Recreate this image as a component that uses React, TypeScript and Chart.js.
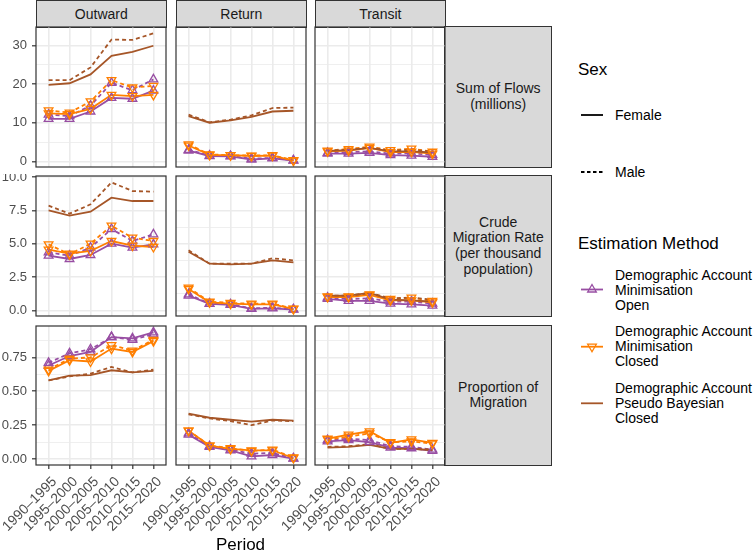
import React, { useEffect, useRef } from 'react';
import { Chart, registerables } from 'chart.js';

Chart.register(...registerables);

const FONT = '"Liberation Sans", Arial, Helvetica, sans-serif';
Chart.defaults.font.family = FONT;

const periods = ['1990–1995', '1995–2000', '2000–2005', '2005–2010', '2010–2015', '2015–2020'];
const flowTypes = ['Outward', 'Return', 'Transit'];
const measureLabels = ['Sum of Flows\n(millions)', 'Crude\nMigration Rate\n(per thousand\npopulation)', 'Proportion of\nMigration'];
const methodLabels = ['Demographic Account\nMinimisation\nOpen', 'Demographic Account\nMinimisation\nClosed', 'Demographic Account\nPseudo Bayesian\nClosed'];
const sexLabels = ['Female', 'Male'];

// y tick values per row
const sumTicksMajor = [0, 10, 20, 30];
const sumTicksMinor = [5, 15, 25];
const cmrTicksMajor = [0, 2.5, 5, 7.5, 10];
const cmrTicksMinor = [1.25, 3.75, 6.25, 8.75];
const propTicksMajor = [0, 0.25, 0.5, 0.75];
const propTicksMinor = [0.125, 0.375, 0.625, 0.875];

// ---- Sum of Flows (millions) ----
const sumOutOpenF = [11.0, 11.0, 12.9, 16.4, 16.2, 18.3];
const sumOutOpenM = [12.1, 11.7, 14.4, 20.3, 18.4, 21.2];
const sumOutClosedF = [12.4, 12.2, 13.6, 17.2, 16.9, 17.2];
const sumOutClosedM = [13.2, 12.6, 15.5, 21.0, 19.1, 19.5];
const sumOutPbF = [19.8, 20.2, 22.5, 27.3, 28.3, 29.9];
const sumOutPbM = [21.0, 21.0, 24.3, 31.5, 31.4, 33.1];

const sumRetOpenF = [2.8, 1.4, 1.3, 0.5, 0.8, 0.2];
const sumRetOpenM = [3.0, 1.5, 1.4, 0.7, 0.9, 0.3];
const sumRetClosedF = [4.1, 1.7, 1.6, 1.4, 1.5, 0.2];
const sumRetClosedM = [4.4, 1.8, 1.6, 1.5, 1.6, 0.3];
const sumRetPbF = [11.7, 10.0, 10.6, 11.5, 12.9, 13.1];
const sumRetPbM = [12.1, 10.1, 10.8, 11.9, 13.8, 13.9];

const sumTraOpenF = [2.0, 2.0, 2.2, 1.6, 1.5, 1.2];
const sumTraOpenM = [2.2, 2.4, 2.6, 2.0, 2.1, 1.7];
const sumTraClosedF = [2.6, 2.8, 3.5, 2.4, 2.5, 2.0];
const sumTraClosedM = [2.8, 3.2, 3.8, 2.9, 3.3, 2.5];
const sumTraPbF = [2.7, 2.9, 3.5, 2.6, 2.6, 2.3];
const sumTraPbM = [2.8, 3.0, 3.6, 2.8, 3.0, 2.6];

// ---- Crude Migration Rate (per thousand) ----
const cmrOutOpenF = [4.1, 3.85, 4.15, 5.0, 4.7, 4.95];
const cmrOutOpenM = [4.35, 4.1, 4.7, 6.1, 5.2, 5.7];
const cmrOutClosedF = [4.55, 4.25, 4.45, 5.2, 4.85, 4.75];
const cmrOutClosedM = [4.95, 4.2, 5.0, 6.35, 5.45, 5.2];
const cmrOutPbF = [7.5, 7.1, 7.4, 8.45, 8.2, 8.2];
const cmrOutPbM = [7.85, 7.25, 7.95, 9.6, 8.95, 8.9];

const cmrRetOpenF = [1.1, 0.48, 0.4, 0.1, 0.15, 0.05];
const cmrRetOpenM = [1.2, 0.5, 0.45, 0.15, 0.2, 0.07];
const cmrRetClosedF = [1.6, 0.6, 0.5, 0.45, 0.45, 0.1];
const cmrRetClosedM = [1.7, 0.65, 0.55, 0.5, 0.5, 0.12];
const cmrRetPbF = [4.4, 3.5, 3.45, 3.5, 3.75, 3.6];
const cmrRetPbM = [4.5, 3.5, 3.5, 3.5, 3.9, 3.75];

const cmrTraOpenF = [0.85, 0.7, 0.7, 0.5, 0.45, 0.35];
const cmrTraOpenM = [0.95, 0.85, 0.9, 0.65, 0.65, 0.5];
const cmrTraClosedF = [1.0, 1.0, 1.15, 0.75, 0.75, 0.6];
const cmrTraClosedM = [1.05, 1.05, 1.2, 0.85, 0.95, 0.7];
const cmrTraPbF = [1.1, 1.1, 1.3, 0.8, 0.75, 0.65];
const cmrTraPbM = [1.1, 1.1, 1.3, 0.9, 0.95, 0.8];

// ---- Proportion of Migration ----
const propOutOpenF = [0.69, 0.76, 0.79, 0.9, 0.89, 0.935];
const propOutOpenM = [0.71, 0.78, 0.81, 0.9, 0.88, 0.92];
const propOutClosedF = [0.65, 0.73, 0.72, 0.815, 0.79, 0.87];
const propOutClosedM = [0.66, 0.74, 0.75, 0.84, 0.8, 0.88];
const propOutPbF = [0.58, 0.615, 0.62, 0.655, 0.64, 0.65];
const propOutPbM = [0.58, 0.61, 0.63, 0.68, 0.64, 0.66];

const propRetOpenF = [0.18, 0.09, 0.065, 0.02, 0.03, 0.003];
const propRetOpenM = [0.19, 0.095, 0.07, 0.04, 0.045, 0.005];
const propRetClosedF = [0.21, 0.1, 0.075, 0.065, 0.065, 0.008];
const propRetClosedM = [0.21, 0.1, 0.08, 0.06, 0.07, 0.012];
const propRetPbF = [0.335, 0.305, 0.29, 0.277, 0.29, 0.283];
const propRetPbM = [0.33, 0.3, 0.28, 0.25, 0.285, 0.28];

const propTraOpenF = [0.13, 0.14, 0.125, 0.085, 0.08, 0.06];
const propTraOpenM = [0.14, 0.15, 0.14, 0.095, 0.09, 0.07];
const propTraClosedF = [0.15, 0.18, 0.205, 0.12, 0.145, 0.12];
const propTraClosedM = [0.145, 0.165, 0.19, 0.125, 0.13, 0.115];
const propTraPbF = [0.085, 0.09, 0.105, 0.075, 0.075, 0.066];
const propTraPbM = [0.09, 0.095, 0.11, 0.075, 0.075, 0.07];

const COLORS = ['#984EA3', '#FF7F00', '#A65628'];
const MARKERS: (number | null)[] = [0, 180, null]; // triangle up, triangle down, none

type PanelSeries = number[][][]; // [method][sex][period]
const panelData: PanelSeries[][] = [
  [
    [[sumOutOpenF, sumOutOpenM], [sumOutClosedF, sumOutClosedM], [sumOutPbF, sumOutPbM]],
    [[sumRetOpenF, sumRetOpenM], [sumRetClosedF, sumRetClosedM], [sumRetPbF, sumRetPbM]],
    [[sumTraOpenF, sumTraOpenM], [sumTraClosedF, sumTraClosedM], [sumTraPbF, sumTraPbM]],
  ],
  [
    [[cmrOutOpenF, cmrOutOpenM], [cmrOutClosedF, cmrOutClosedM], [cmrOutPbF, cmrOutPbM]],
    [[cmrRetOpenF, cmrRetOpenM], [cmrRetClosedF, cmrRetClosedM], [cmrRetPbF, cmrRetPbM]],
    [[cmrTraOpenF, cmrTraOpenM], [cmrTraClosedF, cmrTraClosedM], [cmrTraPbF, cmrTraPbM]],
  ],
  [
    [[propOutOpenF, propOutOpenM], [propOutClosedF, propOutClosedM], [propOutPbF, propOutPbM]],
    [[propRetOpenF, propRetOpenM], [propRetClosedF, propRetClosedM], [propRetPbF, propRetPbM]],
    [[propTraOpenF, propTraOpenM], [propTraClosedF, propTraClosedM], [propTraPbF, propTraPbM]],
  ],
];

const rowMajors = [sumTicksMajor, cmrTicksMajor, propTicksMajor];
const rowMinors = [sumTicksMinor, cmrTicksMinor, propTicksMinor];
const rowDigits = [0, 1, 2];

// layout
const AXL = 36;
const PADT = 2;
const PADR = 2;
const AXB = 70;
const colLefts = [36, 176, 315];
const colW = 130;
const rowTops = [27, 176, 326];
const rowHs = [140, 140, 139];

function rowRange(r: number): [number, number] {
  const all: number[] = [];
  panelData[r].forEach((p) => p.forEach((m) => m.forEach((s) => all.push(...s))));
  const mn = Math.min(...all);
  const mx = Math.max(...all);
  const e = (mx - mn) * 0.05;
  return [mn - e, mx + e];
}

const isMajor = (r: number, v: number) => rowMajors[r].some((m) => Math.abs(m - v) < 1e-9);

const borderPlugin = {
  id: 'panelBorder',
  afterDatasetsDraw(chart: any) {
    const { ctx, chartArea } = chart;
    ctx.save();
    ctx.strokeStyle = '#333333';
    ctx.lineWidth = 1.2;
    ctx.strokeRect(chartArea.left, chartArea.top, chartArea.right - chartArea.left, chartArea.bottom - chartArea.top);
    ctx.restore();
  },
};

function Panel({ r, c }: { r: number; c: number }) {
  const ref = useRef<HTMLCanvasElement>(null);
  const isBottom = r === 2;
  const isLeft = c === 0;
  const width = AXL + colW + PADR + (isBottom ? 10 : 0);
  const height = PADT + rowHs[r] + (isBottom ? AXB : 2);

  useEffect(() => {
    const [ymin, ymax] = rowRange(r);
    const datasets: any[] = [];
    const series = panelData[r][c];
    series.forEach((m, mi) => {
      m.forEach((vals, si) => {
        datasets.push({
          label: `${methodLabels[mi]} ${sexLabels[si]}`,
          data: vals.map((v, i) => ({ x: i, y: v })),
          borderColor: COLORS[mi],
          backgroundColor: COLORS[mi],
          borderWidth: 1.8,
          borderDash: si === 1 ? [4, 3] : [],
          pointRadius: 0,
          tension: 0,
          order: 100 - (mi * 2 + si),
        });
      });
    });
    series.forEach((m, mi) => {
      if (MARKERS[mi] === null) return;
      m.forEach((vals, si) => {
        datasets.push({
          label: `${methodLabels[mi]} ${sexLabels[si]} points`,
          data: vals.map((v, i) => ({ x: i, y: v })),
          showLine: false,
          borderColor: COLORS[mi],
          backgroundColor: 'rgba(0,0,0,0)',
          pointStyle: 'triangle',
          pointRotation: MARKERS[mi],
          pointRadius: 5,
          pointBorderWidth: 1.3,
          pointBorderColor: COLORS[mi],
          pointBackgroundColor: 'rgba(0,0,0,0)',
          order: 50 - (mi * 2 + si),
        });
      });
    });

    const allY = [...rowMajors[r], ...rowMinors[r]].filter((v) => v >= ymin && v <= ymax).sort((a, b) => a - b);

    const chart = new Chart(ref.current as HTMLCanvasElement, {
      type: 'line',
      data: { datasets },
      plugins: [borderPlugin],
      options: {
        animation: false,
        responsive: false,
        maintainAspectRatio: false,
        events: [],
        layout: { autoPadding: false, padding: { left: 0, top: PADT, right: PADR + (isBottom ? 10 : 0), bottom: 0 } },
        plugins: { legend: { display: false }, tooltip: { enabled: false } },
        scales: {
          x: {
            type: 'linear',
            min: -0.6,
            max: 5.6,
            afterBuildTicks: (s: any) => {
              s.ticks = periods.map((_, i) => ({ value: i }));
            },
            afterFit: (s: any) => {
              s.height = isBottom ? AXB : 2;
              s.paddingLeft = 0;
              s.paddingRight = 0;
            },
            border: { display: false },
            grid: {
              color: '#EBEBEB',
              lineWidth: 1.6,
              drawTicks: isBottom,
              tickLength: 4,
              tickColor: '#333333',
              tickWidth: 1.2,
            },
            ticks: {
              display: isBottom,
              autoSkip: false,
              maxRotation: 45,
              minRotation: 45,
              padding: 4.5,
              labelOffset: 6,
              color: '#4D4D4D',
              font: { size: 14, family: FONT },
              callback: (v: any) => periods[Math.round(Number(v))] ?? '',
            },
          },
          y: {
            type: 'linear',
            min: ymin,
            max: ymax,
            afterBuildTicks: (s: any) => {
              s.ticks = allY.map((v) => ({ value: v }));
            },
            afterFit: (s: any) => {
              s.width = AXL;
              s.paddingTop = 0;
              s.paddingBottom = 0;
            },
            border: { display: false },
            grid: {
              color: '#EBEBEB',
              lineWidth: (ctx: any) => (ctx.tick && isMajor(r, ctx.tick.value) ? 1.6 : 0.8),
              drawTicks: isLeft,
              tickLength: 4,
              tickWidth: 1.2,
              tickColor: (ctx: any) => (ctx.tick && isMajor(r, ctx.tick.value) ? '#333333' : 'rgba(0,0,0,0)'),
            },
            ticks: {
              display: isLeft,
              padding: 5,
              color: '#4D4D4D',
              font: { size: 13, family: FONT },
              callback: (v: any) => (isMajor(r, Number(v)) ? Number(v).toFixed(rowDigits[r]) : ''),
            },
          },
        },
      } as any,
    });
    return () => chart.destroy();
  }, [r, c]);

  return (
    <canvas
      ref={ref}
      width={width}
      height={height}
      style={{ position: 'absolute', left: colLefts[c] - AXL, top: rowTops[r] - PADT, width, height }}
    />
  );
}

const stripStyle: React.CSSProperties = {
  position: 'absolute',
  boxSizing: 'border-box',
  background: '#D9D9D9',
  border: '1.2px solid #333333',
  display: 'flex',
  alignItems: 'center',
  justifyContent: 'center',
  textAlign: 'center',
  whiteSpace: 'pre-line',
  fontSize: 14,
  color: '#1A1A1A',
};

function tri(cx: number, cy: number, rad: number, down: boolean) {
  const s = down ? -1 : 1;
  const pts = [
    [cx, cy - s * rad],
    [cx + rad * 0.866, cy + s * rad * 0.5],
    [cx - rad * 0.866, cy + s * rad * 0.5],
  ];
  return pts.map((p) => p.join(',')).join(' ');
}

export default function App() {
  const keyX1 = 581;
  const keyX2 = 603;
  const keyCx = 592;
  const methodKeyY = [289.5, 346.7, 403.3];
  const methodTextTop = [267.5, 324.2, 380.8];
  return (
    <div
      style={{
        position: 'absolute',
        left: 0,
        top: 0,
        width: 755,
        height: 552,
        background: '#ffffff',
        overflow: 'hidden',
        fontFamily: FONT,
      }}
    >
      {flowTypes.map((t, c) => (
        <div key={t} style={{ ...stripStyle, left: colLefts[c], top: 0, width: colW + 0.6, height: 27.6 }}>
          {t}
        </div>
      ))}
      {measureLabels.map((t, r) => (
        <div
          key={t}
          style={{ ...stripStyle, left: 444.4, top: rowTops[r] - 0.6, width: 107.6, height: rowHs[r] + 1.2, lineHeight: '15.7px' }}
        >
          {t}
        </div>
      ))}
      {[0, 1, 2].map((r) => [0, 1, 2].map((c) => <Panel key={`${r}-${c}`} r={r} c={c} />))}

      <div
        style={{ position: 'absolute', left: 140, width: 201, top: 535, lineHeight: '20px', fontSize: 17, textAlign: 'center', color: '#000' }}
      >
        Period
      </div>

      <div style={{ position: 'absolute', left: 578, top: 60, fontSize: 17, lineHeight: '20px', color: '#000' }}>Sex</div>
      <div style={{ position: 'absolute', left: 615, top: 107, fontSize: 14, lineHeight: '16px', color: '#000' }}>{sexLabels[0]}</div>
      <div style={{ position: 'absolute', left: 615, top: 164, fontSize: 14, lineHeight: '16px', color: '#000' }}>{sexLabels[1]}</div>
      <div style={{ position: 'absolute', left: 578, top: 234, fontSize: 17, lineHeight: '20px', color: '#000', whiteSpace: 'nowrap' }}>
        Estimation Method
      </div>
      {methodLabels.map((t, i) => (
        <div
          key={t}
          style={{ position: 'absolute', left: 615, top: methodTextTop[i], fontSize: 14, lineHeight: '15px', color: '#000', whiteSpace: 'pre' }}
        >
          {t}
        </div>
      ))}
      <svg width={755} height={552} style={{ position: 'absolute', left: 0, top: 0, pointerEvents: 'none' }}>
        <line x1={keyX1} x2={keyX2} y1={115} y2={115} stroke="#000" strokeWidth={1.8} />
        <line x1={keyX1} x2={keyX2} y1={172} y2={172} stroke="#000" strokeWidth={1.8} strokeDasharray="3.5 2.5" />
        {COLORS.map((col, i) => (
          <g key={col}>
            <line x1={keyX1} x2={keyX2} y1={methodKeyY[i]} y2={methodKeyY[i]} stroke={col} strokeWidth={1.8} />
            {MARKERS[i] !== null && (
              <polygon points={tri(keyCx, methodKeyY[i], 5, MARKERS[i] === 180)} fill="none" stroke={col} strokeWidth={1.3} />
            )}
          </g>
        ))}
      </svg>
    </div>
  );
}
